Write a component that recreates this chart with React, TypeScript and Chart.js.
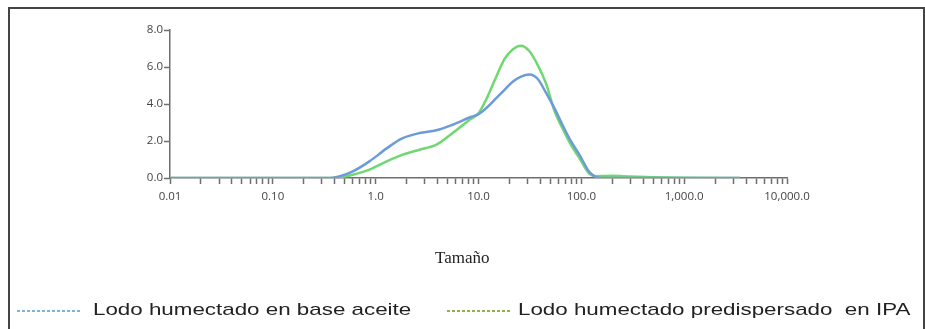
import React, { useEffect, useRef } from "react";
import { Chart, registerables } from "chart.js";

Chart.register(...registerables);

// Particle size (x, log scale)
const SIZES = [
  0.01, 0.1, 0.3, 0.36, 0.45, 0.6, 0.87, 1.28, 1.83, 2.67, 3.9, 5.6, 8.2, 10, 12, 14.8, 18, 21.5,
  25.9, 31.3, 37.7, 45.4, 55, 65.4, 80, 95.7, 120, 140, 160, 200, 300, 500, 1000, 3500,
];
// Lodo humectado en base aceite (blue)
const BLUE = [
  0, 0, 0, 0, 0.1, 0.36, 0.9, 1.6, 2.15, 2.43, 2.58, 2.88, 3.27, 3.45, 3.8, 4.3, 4.78, 5.2,
  5.48, 5.6, 5.35, 4.6, 3.75, 2.88, 1.95, 1.26, 0.32, 0.05, 0, 0, 0, 0, 0, 0,
];
// Lodo humectado predispersado en IPA (green)
const GREEN = [
  0, 0, 0, 0, 0.05, 0.18, 0.45, 0.9, 1.26, 1.53, 1.8, 2.43, 3.15, 3.5, 4.3, 5.45, 6.45, 6.95,
  7.15, 6.85, 6.1, 5.1, 3.6, 2.7, 1.75, 1.08, 0.22, 0.1, 0.11, 0.12, 0.08, 0.04, 0.01, 0,
];

const X_TICK_DECADES = [0.01, 0.1, 1, 10, 100, 1000, 10000];
const X_TICK_LABELS = ["0.01", "0.10", "1.0", "10.0", "100.0", "1,000.0", "10,000.0"];
const Y_TICKS = [0, 2, 4, 6, 8];
const Y_TICK_LABELS = ["0.0", "2.0", "4.0", "6.0", "8.0"];

const SERIES_NAMES = ["Lodo humectado en base aceite", "Lodo humectado predispersado  en IPA"];
const SERIES_COLORS = ["#6b9bd8", "#70d870"];
const LEGEND_COLORS = ["#7fb2d6", "#94b04a"];
const X_TITLE = "Tamaño";

const AXIS_COLOR = "#6e6e6e";

function buildXTicks(): number[] {
  const out: number[] = [];
  for (let i = 0; i < X_TICK_DECADES.length - 1; i++) {
    for (let k = 1; k <= 9; k++) out.push(X_TICK_DECADES[i] * k);
  }
  out.push(X_TICK_DECADES[X_TICK_DECADES.length - 1]);
  return out;
}

export default function App() {
  const ref = useRef<HTMLCanvasElement | null>(null);

  useEffect(() => {
    document.documentElement.style.overflow = "hidden";
    document.body.style.overflow = "hidden";
    const canvas = ref.current;
    if (!canvas) return;
    const xTicks = buildXTicks();
    const chart = new Chart(canvas, {
      type: "line",
      data: {
        datasets: [
          {
            label: SERIES_NAMES[0],
            data: SIZES.map((s, i) => ({ x: s, y: BLUE[i] })),
            borderColor: SERIES_COLORS[0],
            borderWidth: 2.5,
            pointRadius: 0,
            cubicInterpolationMode: "monotone",
            fill: false,
          },
          {
            label: SERIES_NAMES[1],
            data: SIZES.map((s, i) => ({ x: s, y: GREEN[i] })),
            borderColor: SERIES_COLORS[1],
            borderWidth: 2.5,
            pointRadius: 0,
            cubicInterpolationMode: "monotone",
            fill: false,
          },
        ],
      },
      options: {
        animation: false,
        responsive: false,
        maintainAspectRatio: false,
        devicePixelRatio: 1,
        layout: { padding: { left: 110, right: 138, top: 30, bottom: 121 } },
        plugins: {
          legend: { display: false },
          tooltip: { enabled: false },
          title: { display: false },
        },
        scales: {
          x: {
            type: "logarithmic",
            min: 0.01,
            max: 10000,
            afterBuildTicks: (scale: any) => {
              scale.ticks = xTicks.map((v) => ({ value: v }));
            },
            afterFit: (scale: any) => {
              scale.height = 30;
            },
            ticks: {
              autoSkip: false,
              maxRotation: 0,
              minRotation: 0,
              padding: 6,
              color: "#444",
              font: { family: "'Open Sans', sans-serif", size: 11.5 },
              callback: (value: any) => {
                const v = Number(value);
                const idx = X_TICK_DECADES.findIndex(
                  (d) => Math.abs(Math.log10(v) - Math.log10(d)) < 1e-6
                );
                return idx >= 0 ? X_TICK_LABELS[idx] : "";
              },
            },
            grid: {
              display: true,
              drawOnChartArea: false,
              drawTicks: true,
              tickLength: 6,
              tickColor: AXIS_COLOR,
              tickWidth: 1.5,
            },
            border: { display: true, color: AXIS_COLOR, width: 1.5 },
          },
          y: {
            type: "linear",
            min: 0,
            max: 8,
            afterFit: (scale: any) => {
              scale.width = 60;
            },
            afterBuildTicks: (scale: any) => {
              scale.ticks = Y_TICKS.map((v) => ({ value: v }));
            },
            ticks: {
              padding: 1,
              color: "#444",
              font: { family: "'Open Sans', sans-serif", size: 11.5 },
              callback: (value: any) => {
                const idx = Y_TICKS.indexOf(Number(value));
                return idx >= 0 ? Y_TICK_LABELS[idx] : "";
              },
            },
            grid: {
              display: true,
              drawOnChartArea: false,
              drawTicks: true,
              tickLength: 6,
              tickColor: AXIS_COLOR,
              tickWidth: 1.5,
            },
            border: { display: true, color: AXIS_COLOR, width: 1.5 },
          },
        },
      },
    } as any);
    return () => chart.destroy();
  }, []);

  const legendPos = [
    { sampleLeft: 17, sampleWidth: 65, textLeft: 93 },
    { sampleLeft: 447, sampleWidth: 63, textLeft: 518 },
  ];

  return (
    <div
      style={{
        position: "absolute",
        left: 0,
        top: 0,
        width: 925,
        height: 329,
        overflow: "hidden",
        background: "#fff",
      }}
    >
      <div
        style={{
          position: "absolute",
          left: 8,
          top: 7,
          width: 917,
          height: 340,
          boxSizing: "border-box",
          border: "2px solid #444",
        }}
      />
      <canvas
        ref={ref}
        width={925}
        height={329}
        style={{ position: "absolute", left: 0, top: 0, width: 925, height: 329 }}
      />
      <div
        style={{
          position: "absolute",
          left: 435,
          top: 250,
          fontFamily: "'Liberation Serif', 'Times New Roman', serif",
          fontSize: 17,
          lineHeight: "16px",
          color: "#222",
          whiteSpace: "nowrap",
        }}
      >
        {X_TITLE}
      </div>
      {SERIES_NAMES.map((name, i) => (
        <React.Fragment key={name}>
          <div
            style={{
              position: "absolute",
              left: legendPos[i].sampleLeft,
              top: 310,
              width: legendPos[i].sampleWidth,
              height: 2,
              background: `repeating-linear-gradient(to right, ${LEGEND_COLORS[i]} 0px, ${LEGEND_COLORS[i]} 3px, transparent 3px, transparent 5px)`,
            }}
          />
          <div
            style={{
              position: "absolute",
              left: legendPos[i].textLeft,
              top: 301,
              fontFamily: "'Liberation Sans', Arial, sans-serif",
              fontSize: 17,
              lineHeight: "17px",
              color: "#222",
              whiteSpace: "pre",
              transform: "scaleX(1.315)",
              transformOrigin: "left top",
            }}
          >
            {name}
          </div>
        </React.Fragment>
      ))}
    </div>
  );
}
